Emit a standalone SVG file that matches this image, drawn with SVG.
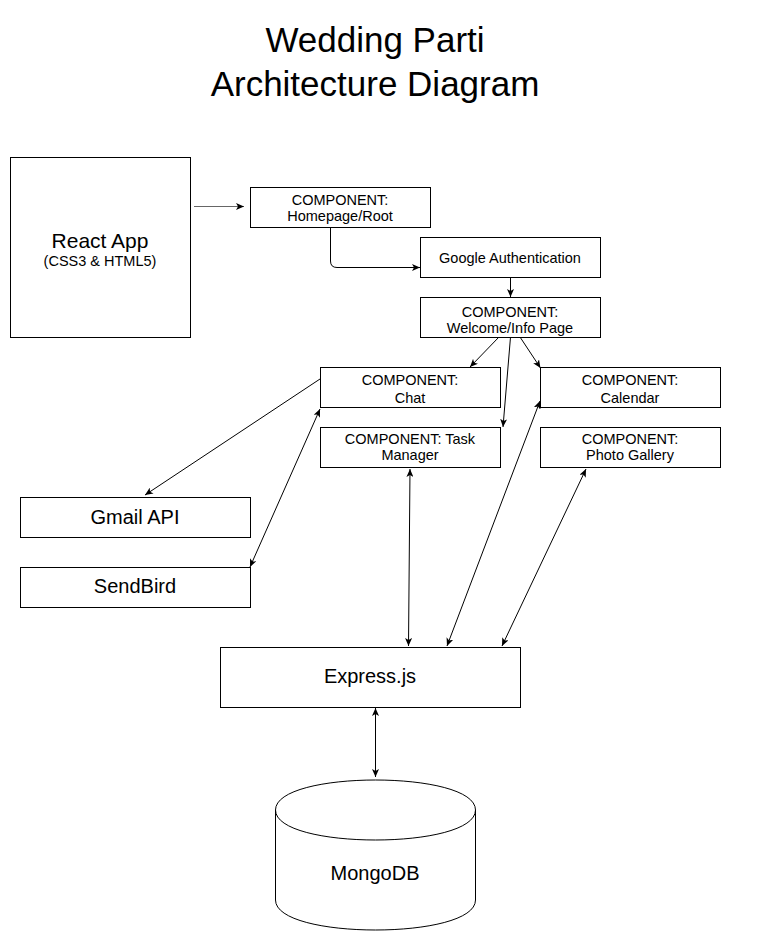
<svg xmlns="http://www.w3.org/2000/svg" width="761" height="931" viewBox="0 0 761 931">
<style>
.box{fill:#ffffff;stroke:#000000;stroke-width:1}
.t{font-family:"Liberation Sans",Arial,Helvetica,sans-serif;fill:#000000;text-anchor:middle}
.s{font-size:14.5px}
.m{font-size:20px}
.e{fill:none;stroke:#000000;stroke-width:1}
.one{marker-end:url(#ah)}
.two{marker-start:url(#ah);marker-end:url(#ah)}
</style>
<defs>
<marker id="ah" viewBox="0 0 8 7" refX="8" refY="3.5" markerWidth="8" markerHeight="7" markerUnits="userSpaceOnUse" orient="auto-start-reverse">
<path d="M0,0 L8,3.5 L0,7 L2,3.5 Z" fill="#000000"/>
</marker>
</defs>
<rect width="761" height="931" fill="#ffffff"/>
<g id="title">
<text class="t" x="375" y="52" font-size="35">Wedding Parti</text>
<text class="t" x="375" y="96" font-size="35">Architecture Diagram</text>
</g>
<g id="connectors">
<path class="e one" d="M194,206.5 L244,206.5" style="stroke:#666666"/>
<path class="e one" d="M330.5,227 L330.5,261 Q330.5,267.5 337,267.5 L420,267.5"/>
<path class="e one" d="M510.5,277 L510.5,297"/>
<path class="e one" d="M499,337 L470,367"/>
<path class="e one" d="M510.5,337 L503,427"/>
<path class="e one" d="M520,337 L540.5,368"/>
<path class="e one" d="M320,379 L145,495"/>
<path class="e two" d="M250,567 L320,409"/>
<path class="e two" d="M410,469 L408.5,646"/>
<path class="e two" d="M540,401 L447,646"/>
<path class="e two" d="M586,469 L502,646"/>
<path class="e two" d="M375.5,708 L375.5,777"/>
</g>
<g id="react-app">
<rect class="box" x="10.5" y="157.5" width="180" height="180"/>
<text class="t" x="100" y="248" font-size="21">React App</text>
<text class="t s" x="100" y="266">(CSS3 &amp; HTML5)</text>
</g>
<g id="homepage">
<rect class="box" x="250.5" y="187.5" width="180" height="40"/>
<text class="t s" x="340" y="204.5">COMPONENT:</text>
<text class="t s" x="340" y="221">Homepage/Root</text>
</g>
<g id="google-auth">
<rect class="box" x="420.5" y="237.5" width="180" height="40"/>
<text class="t s" x="510" y="263">Google Authentication</text>
</g>
<g id="welcome">
<rect class="box" x="420.5" y="297.5" width="180" height="40"/>
<text class="t s" x="510" y="317">COMPONENT:</text>
<text class="t s" x="510" y="332.5">Welcome/Info Page</text>
</g>
<g id="chat">
<rect class="box" x="320.5" y="367.5" width="180" height="40"/>
<text class="t s" x="410" y="385">COMPONENT:</text>
<text class="t s" x="410" y="402.5">Chat</text>
</g>
<g id="calendar">
<rect class="box" x="540.5" y="367.5" width="180" height="40"/>
<text class="t s" x="630" y="385">COMPONENT:</text>
<text class="t s" x="630" y="402.5">Calendar</text>
</g>
<g id="task-manager">
<rect class="box" x="320.5" y="427.5" width="180" height="40"/>
<text class="t s" x="410" y="443.5">COMPONENT: Task</text>
<text class="t s" x="410" y="460">Manager</text>
</g>
<g id="photo-gallery">
<rect class="box" x="540.5" y="427.5" width="180" height="40"/>
<text class="t s" x="630" y="443.5">COMPONENT:</text>
<text class="t s" x="630" y="460">Photo Gallery</text>
</g>
<g id="gmail-api">
<rect class="box" x="20.5" y="497.5" width="230" height="40"/>
<text class="t m" x="135" y="523.5">Gmail API</text>
</g>
<g id="sendbird">
<rect class="box" x="20.5" y="567.5" width="230" height="40"/>
<text class="t m" x="135" y="593">SendBird</text>
</g>
<g id="express">
<rect class="box" x="220.5" y="647.5" width="300" height="60"/>
<text class="t m" x="370" y="683">Express.js</text>
</g>
<g id="mongodb">
<path class="box" d="M275.5,810 C275.5,770 475.5,770 475.5,810 L475.5,900 C475.5,940 275.5,940 275.5,900 Z"/>
<path class="e" d="M275.5,810 C275.5,850 475.5,850 475.5,810"/>
<text class="t m" x="375" y="880">MongoDB</text>
</g>
</svg>
